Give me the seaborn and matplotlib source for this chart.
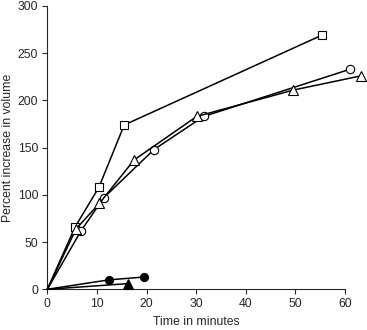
import matplotlib
matplotlib.use("Agg")
import matplotlib.pyplot as plt
import seaborn as sns
import pandas as pd

# Swelling time courses (time in minutes, percent increase in volume)
sq_t = [0, 5.6, 10.4, 15.5, 55.3]
sq_v = [0, 66, 108, 174, 269]

circ_t = [0, 6.8, 11.4, 21.5, 31.5, 61.0]
circ_v = [0, 62, 97, 148, 183, 233]

tri_t = [0, 5.8, 10.5, 17.5, 30.1, 49.6, 63.2]
tri_v = [0, 64, 91, 137, 183, 211, 226]

fcirc_t = [0, 12.4, 19.5]
fcirc_v = [0, 10, 13]

ftri_t = [0, 16.2]
ftri_v = [0, 6]

xticks = [0, 10, 20, 30, 40, 50, 60]
yticks = [0, 50, 100, 150, 200, 250, 300]

sns.set_style("ticks")
plt.rcParams["font.family"] = ["Liberation Sans", "DejaVu Sans"]

fig = plt.figure(figsize=(3.67, 3.30), dpi=100)
ax = fig.add_axes([47.3 / 367, 1 - 289.3 / 330, (345 - 47.3) / 367, (289.3 - 6) / 330])

series = [
    (sq_t, sq_v, "s", "white", 5.6),
    (circ_t, circ_v, "o", "white", 6.0),
    (tri_t, tri_v, "^", "white", 6.6),
    (fcirc_t, fcirc_v, "o", "black", 5.8),
    (ftri_t, ftri_v, "^", "black", 7.0),
]
for t, v, m, fc, ms in series:
    df = pd.DataFrame({"t": t, "v": v})
    sns.lineplot(data=df, x="t", y="v", ax=ax, color="black", linewidth=1.1,
                 marker=m, markersize=ms, markerfacecolor=fc,
                 markeredgecolor="black", markeredgewidth=0.8,
                 markevery=list(range(1, len(t))), clip_on=False, zorder=3)

ax.set_xlim(0, 60)
ax.set_ylim(0, 300)
ax.set_xticks(xticks)
ax.set_yticks(yticks)
ax.tick_params(axis="both", labelsize=8.8, length=3.5, width=0.8, direction="out", pad=3)
for s in ["top", "right"]:
    ax.spines[s].set_visible(False)
for s in ["left", "bottom"]:
    ax.spines[s].set_linewidth(0.8)
ax.set_xlabel("Time in minutes", fontsize=8.8, labelpad=4)
ax.set_ylabel("Percent increase in volume", fontsize=8.8, labelpad=3)

fig.savefig("out.png", dpi=100)
